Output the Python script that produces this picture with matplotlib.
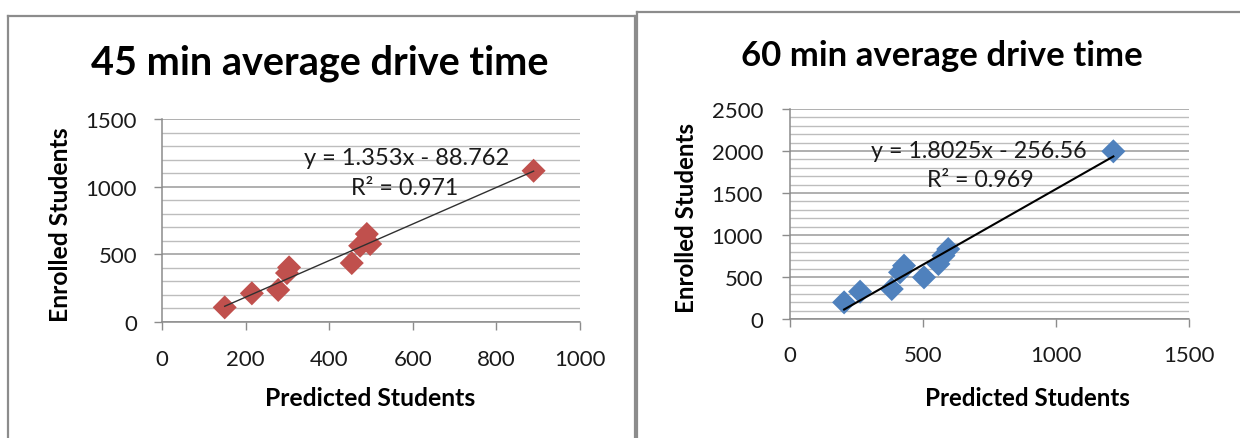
import matplotlib
matplotlib.use("Agg")
import matplotlib.pyplot as plt
import numpy as np
from matplotlib.lines import Line2D
from matplotlib.ticker import MultipleLocator

# ---------------- data ----------------
titles = ["45 min average drive time", "60 min average drive time"]
x_label = "Predicted Students"
y_label = "Enrolled Students"

pred_45 = [150, 215, 278, 299, 304, 454, 474, 490, 498, 889]
enr_45 = [106, 210, 235, 360, 402, 434, 562, 649, 575, 1117]
slope_45, icpt_45 = 1.353, -88.762
eq_45 = ["y = 1.353x - 88.762", "R² = 0.971"]
xticks_45 = [0, 200, 400, 600, 800, 1000]
yticks_45 = [0, 500, 1000, 1500]

pred_60 = [205, 265, 384, 415, 430, 505, 559, 578, 596, 1216]
enr_60 = [198, 325, 357, 556, 635, 496, 655, 754, 833, 1996]
slope_60, icpt_60 = 1.8025, -256.56
eq_60 = ["y = 1.8025x - 256.56", "R² = 0.969"]
xticks_60 = [0, 500, 1000, 1500]
yticks_60 = [0, 500, 1000, 1500, 2000, 2500]

# ---------------- layout ----------------
W, H = 1240, 439
fig = plt.figure(figsize=(W / 100, H / 100), dpi=100)
fig.patch.set_facecolor("white")
FONT = ["Lato", "DejaVu Sans"]


def fx(x):
    return x / W


def fy(y):
    return 1 - y / H


renderer = fig.canvas.get_renderer()


def fit_text(x, y, s, target_w, weight="normal", rotation=0, color="black", size0=16):
    t = fig.text(fx(x), fy(y), s, ha="center", va="center", family=FONT,
                 fontweight=weight, rotation=rotation, fontsize=size0, color=color)
    for _ in range(3):
        bb = t.get_window_extent(renderer)
        w = bb.height if rotation == 90 else bb.width
        t.set_fontsize(t.get_fontsize() * target_w / w)
    return t


# chart frames
frame_col = "#8c8c8c"
for (x0, x1, y0) in [(8, 635, 17), (637, 1245, 13)]:
    fig.add_artist(Line2D([fx(x0), fx(x0)], [fy(y0), fy(445)], color=frame_col, lw=1.6))
    fig.add_artist(Line2D([fx(x0), fx(x1)], [fy(y0), fy(y0)], color=frame_col, lw=1.6))
    fig.add_artist(Line2D([fx(x1), fx(x1)], [fy(y0), fy(445)], color=frame_col, lw=1.6))


def make_axes(left, right, top, bottom, xticks, yticks, xs, ys, slope, icpt,
              color, line_col, line_w, ypad, xpad):
    ax = fig.add_axes([fx(left), fy(bottom), (right - left) / W, (bottom - top) / H])
    ax.set_xlim(xticks[0], xticks[-1])
    ax.set_ylim(yticks[0], yticks[-1])
    ax.set_xticks(xticks)
    ax.set_yticks(yticks)
    ax.yaxis.set_minor_locator(MultipleLocator(100))
    ax.grid(axis="y", which="major", color="#9a9a9a", lw=1.1)
    ax.grid(axis="y", which="minor", color="#bdbdbd", lw=1.0)
    ax.set_axisbelow(True)
    for s in ["top", "right"]:
        ax.spines[s].set_visible(False)
    for s in ["left", "bottom"]:
        ax.spines[s].set_color("#8c8c8c")
        ax.spines[s].set_linewidth(1.1)
    ax.tick_params(axis="both", which="major", direction="out", length=6,
                   width=1, color="#8c8c8c", labelsize=16, labelcolor="#1a1a1a")
    ax.tick_params(axis="y", which="minor", length=0)
    ax.tick_params(axis="y", pad=ypad)
    ax.tick_params(axis="x", pad=xpad)
    for lab in ax.get_xticklabels() + ax.get_yticklabels():
        lab.set_family(FONT)
    ax.scatter(xs, ys, marker="D", s=150, color=color, edgecolors="none", zorder=3)
    xx = np.array([min(xs), max(xs)])
    ax.plot(xx, slope * xx + icpt, color=line_col, lw=line_w, zorder=4)
    ax.patch.set_alpha(0)
    return ax


ax1 = make_axes(162, 580, 120, 322.7, xticks_45, yticks_45, pred_45, enr_45,
                slope_45, icpt_45, "#C0504D", "#303030", 1.0, 12, 14)
ax2 = make_axes(789.5, 1189, 110, 320, xticks_60, yticks_60, pred_60, enr_60,
                slope_60, icpt_60, "#4F81BD", "black", 1.5, 13, 13)

# titles
fit_text(320, 63, titles[0], 458, weight="bold", size0=24)
fit_text(942, 56, titles[1], 402, weight="bold", size0=22)

# axis labels
fit_text(370, 399, x_label, 210, weight="bold")
fit_text(1027, 399, x_label, 205, weight="bold")
fit_text(61, 225, y_label, 195, weight="bold", rotation=90)
fit_text(687, 218, y_label, 191, weight="bold", rotation=90)

# equations
fit_text(407, 159, eq_45[0], 205, color="#1a1a1a")
fit_text(405, 189, eq_45[1], 107, color="#1a1a1a")
fit_text(979, 151, eq_60[0], 215, color="#1a1a1a")
fit_text(980, 181, eq_60[1], 107, color="#1a1a1a")

fig.savefig("out.png", dpi=100, facecolor="white")
